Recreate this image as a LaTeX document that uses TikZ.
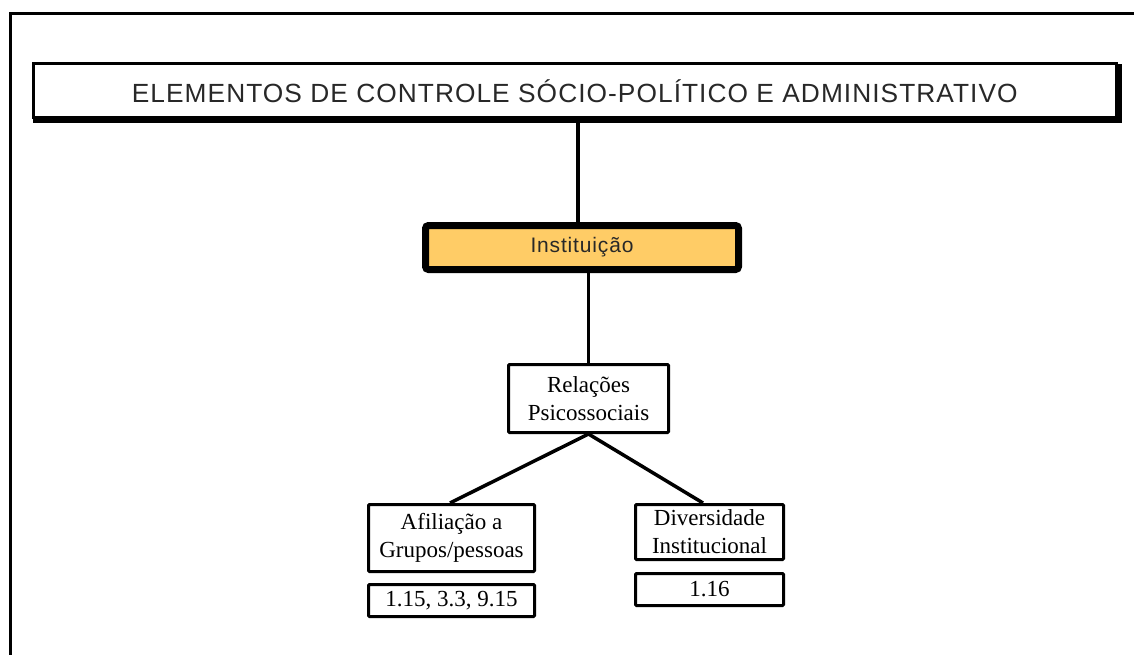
\documentclass[tikz,border=0pt]{standalone}
\usepackage{fontspec}
\setmainfont{Liberation Serif}
\newfontfamily\lightsans[LetterSpace=4]{Liberation Sans}
\usetikzlibrary{calc}
\definecolor{instfill}{RGB}{255,204,102}
\definecolor{txtgray}{RGB}{40,40,40}
\tikzset{
  conn/.style={line width=3.5pt},
  serifbox/.style={draw, line width=3pt, fill=white, inner sep=0pt, align=center,
    font=\fontsize{23}{28}\selectfont, rounded corners=1pt},
}
\begin{document}
\begin{tikzpicture}[x=1pt,y=-1pt]
\useasboundingbox (0,0) rectangle (1134,655);
\clip (0,0) rectangle (1134,655);
\fill[white] (0,0) rectangle (1134,655);
% outer frame
\draw[line width=3pt] (10,660) -- (10,14) -- (1140,14);
% title
\fill[black] (33,64) rectangle (1122,123);
\node[draw, line width=3pt, fill=white, inner sep=0pt,
  minimum width=1082.5pt, minimum height=53.5pt,
  font=\lightsans\fontsize{26.3}{30}\selectfont, text=txtgray] (title) at (574.75,90.75)
  {\raisebox{-1.5pt}{ELEMENTOS DE CONTROLE SÓCIO-POLÍTICO E ADMINISTRATIVO}};
% institution
\node[draw, line width=7pt, fill=instfill, rounded corners=3pt, inner sep=0pt,
  minimum width=313pt, minimum height=44pt,
  font=\lightsans\fontsize{21}{25}\selectfont, text=txtgray] (inst) at (582,247.5)
  {\raisebox{-3pt}{Instituição}};
% relations
\node[serifbox, minimum width=160pt, minimum height=68pt] (rel) at (588.5,398.5)
  {Relações\\Psicossociais};
\node[serifbox, minimum width=166pt, minimum height=67pt] (afil) at (451.5,538)
  {Afiliação a\\Grupos/pessoas};
\node[serifbox, minimum width=166pt, minimum height=32pt] (n1) at (451.5,600.5)
  {1.15, 3.3, 9.15};
\node[serifbox, minimum width=148pt, minimum height=55pt] (div) at (709.5,532)
  {Diversidade\\Institucional};
\node[serifbox, minimum width=148pt, minimum height=32pt] (n2) at (709.5,589.5)
  {1.16};
% connectors
\coordinate (xa) at (578,0);
\coordinate (pa) at (450,0);
\coordinate (pd) at (703,0);
\draw[conn] (title.south -| xa) -- (inst.north -| xa);
\draw[conn] (inst.south -| rel.north) -- (rel.north);
\draw[conn] (rel.south) -- (afil.north -| pa);
\draw[conn] (rel.south) -- (div.north -| pd);
\end{tikzpicture}
\end{document}
